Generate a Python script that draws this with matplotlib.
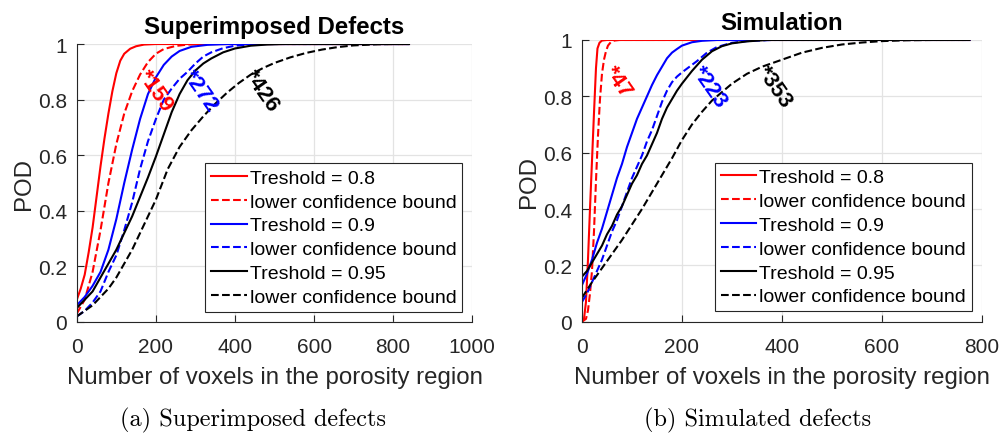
import matplotlib
matplotlib.use("Agg")
import matplotlib.pyplot as plt

### POD curves: x = number of voxels, y = POD
### (a) superimposed defects
sup_x_08 = [0, 10, 20, 30, 40, 50, 60, 70, 80, 90, 100, 110, 120, 135, 150, 170, 200, 840]
sup_pod_08 = [0.08, 0.12, 0.17, 0.25, 0.34, 0.45, 0.56, 0.66, 0.75, 0.83, 0.895, 0.94, 0.965, 0.983, 0.992, 0.998, 1.0, 1.0]
sup_x_08_lcb = [0, 20, 40, 60, 80, 100, 120, 140, 160, 180, 200, 220, 250, 280, 320, 840]
sup_pod_08_lcb = [0.03, 0.08, 0.18, 0.33, 0.50, 0.64, 0.75, 0.83, 0.89, 0.935, 0.965, 0.982, 0.993, 0.998, 1.0, 1.0]

sup_x_09 = [0, 20, 40, 60, 80, 100, 120, 140, 160, 180, 200, 220, 240, 260, 290, 330, 380, 840]
sup_pod_09 = [0.06, 0.09, 0.13, 0.18, 0.26, 0.37, 0.50, 0.62, 0.73, 0.82, 0.88, 0.925, 0.955, 0.975, 0.99, 0.997, 1.0, 1.0]
sup_x_09_lcb = [0, 20, 40, 60, 80, 100, 120, 140, 160, 180, 200, 220, 240, 260, 280, 300, 320, 340, 370, 400, 440, 480, 840]
sup_pod_09_lcb = [0.02, 0.04, 0.07, 0.11, 0.18, 0.24, 0.33, 0.43, 0.55, 0.65, 0.73, 0.80, 0.84, 0.875, 0.90, 0.93, 0.955, 0.97, 0.985, 0.994, 0.998, 1.0, 1.0]

sup_x_095 = [0, 20, 40, 60, 80, 100, 120, 140, 160, 180, 200, 220, 240, 260, 280, 300, 320, 340, 370, 400, 440, 480, 520, 840]
sup_pod_095 = [0.05, 0.08, 0.11, 0.16, 0.21, 0.26, 0.32, 0.38, 0.45, 0.52, 0.595, 0.675, 0.755, 0.82, 0.87, 0.905, 0.93, 0.948, 0.97, 0.984, 0.994, 0.998, 1.0, 1.0]
sup_x_095_lcb = [0, 20, 40, 60, 80, 100, 120, 140, 160, 180, 200, 230, 260, 290, 320, 350, 380, 410, 440, 470, 500, 540, 580, 620, 660, 700, 760, 800, 840]
sup_pod_095_lcb = [0.02, 0.04, 0.06, 0.09, 0.12, 0.16, 0.21, 0.26, 0.32, 0.38, 0.44, 0.55, 0.63, 0.69, 0.74, 0.785, 0.825, 0.86, 0.89, 0.913, 0.932, 0.952, 0.968, 0.98, 0.989, 0.995, 0.999, 1.0, 1.0]

### (b) simulated defects
sim_x_08 = [0, 4, 8, 12, 16, 20, 24, 28, 31, 35, 40, 50, 775]
sim_pod_08 = [0.0, 0.01, 0.07, 0.22, 0.40, 0.57, 0.74, 0.90, 0.97, 0.99, 0.998, 1.0, 1.0]
sim_x_08_lcb = [0, 8, 12, 16, 20, 24, 28, 32, 36, 40, 44, 48, 52, 58, 65, 75, 775]
sim_pod_08_lcb = [0.0, 0.01, 0.04, 0.10, 0.18, 0.32, 0.50, 0.66, 0.79, 0.88, 0.93, 0.96, 0.98, 0.993, 0.998, 1.0, 1.0]

sim_x_09 = [0, 10, 20, 30, 40, 50, 60, 70, 80, 90, 100, 110, 120, 130, 140, 150, 160, 170, 180, 190, 200, 220, 240, 270, 775]
sim_pod_09 = [0.13, 0.17, 0.22, 0.28, 0.33, 0.39, 0.45, 0.51, 0.56, 0.62, 0.67, 0.72, 0.76, 0.80, 0.84, 0.875, 0.905, 0.935, 0.955, 0.968, 0.98, 0.992, 0.997, 1.0, 1.0]
sim_x_09_lcb = [0, 10, 20, 30, 40, 50, 60, 70, 80, 90, 100, 110, 120, 130, 140, 150, 160, 170, 180, 190, 200, 215, 230, 250, 270, 300, 330, 380, 775]
sim_pod_09_lcb = [0.07, 0.10, 0.14, 0.18, 0.22, 0.27, 0.32, 0.36, 0.41, 0.46, 0.51, 0.55, 0.59, 0.64, 0.68, 0.73, 0.78, 0.82, 0.85, 0.87, 0.885, 0.905, 0.925, 0.955, 0.975, 0.99, 0.996, 1.0, 1.0]

sim_x_095 = [0, 10, 20, 30, 40, 50, 60, 70, 80, 90, 100, 110, 120, 130, 140, 150, 160, 170, 180, 190, 200, 220, 240, 260, 280, 300, 330, 370, 775]
sim_pod_095 = [0.16, 0.18, 0.21, 0.24, 0.27, 0.31, 0.34, 0.38, 0.41, 0.45, 0.49, 0.52, 0.56, 0.59, 0.63, 0.67, 0.72, 0.76, 0.79, 0.82, 0.845, 0.89, 0.93, 0.96, 0.978, 0.988, 0.995, 1.0, 1.0]
sim_x_095_lcb = [0, 20, 40, 60, 80, 100, 120, 140, 160, 180, 200, 220, 240, 260, 280, 300, 330, 360, 400, 440, 480, 520, 560, 600, 650, 700, 775]
sim_pod_095_lcb = [0.085, 0.14, 0.19, 0.24, 0.29, 0.345, 0.40, 0.46, 0.52, 0.58, 0.645, 0.70, 0.745, 0.785, 0.815, 0.845, 0.88, 0.905, 0.93, 0.955, 0.972, 0.984, 0.991, 0.996, 0.999, 1.0, 1.0]

### a90/95 labels (x value where the lower bound reaches 0.9)
sup_a9095 = [159, 272, 426]
sim_a9095 = [47, 223, 353]

legend_labels = ["Treshold = 0.8", "lower confidence bound",
                 "Treshold = 0.9", "lower confidence bound",
                 "Treshold = 0.95", "lower confidence bound"]
colors = ["#ff0000", "#0000ff", "#000000"]

plt.rcParams["font.family"] = ["Liberation Sans", "DejaVu Sans"]
axis_col = "#262626"

fig = plt.figure(figsize=(10.01, 4.35), dpi=100)
ax1 = fig.add_axes([0.0767, 0.2575, 0.3951, 0.639])
ax2 = fig.add_axes([0.5814, 0.2582, 0.3996, 0.6476])

panels = [
    (ax1, [(sup_x_08, sup_pod_08), (sup_x_08_lcb, sup_pod_08_lcb),
           (sup_x_09, sup_pod_09), (sup_x_09_lcb, sup_pod_09_lcb),
           (sup_x_095, sup_pod_095), (sup_x_095_lcb, sup_pod_095_lcb)],
     sup_a9095, "Superimposed Defects", 1000),
    (ax2, [(sim_x_08, sim_pod_08), (sim_x_08_lcb, sim_pod_08_lcb),
           (sim_x_09, sim_pod_09), (sim_x_09_lcb, sim_pod_09_lcb),
           (sim_x_095, sim_pod_095), (sim_x_095_lcb, sim_pod_095_lcb)],
     sim_a9095, "Simulation", 800),
]

for ax, curves, a9095, title, xmax in panels:
    for i, (xs, ys) in enumerate(curves):
        ls = "-" if i % 2 == 0 else "--"
        ax.plot(xs, ys, color=colors[i // 2], ls=ls, lw=1.5, label=legend_labels[i])
    for j, val in enumerate(a9095):
        ax.annotate("*" + str(val), xy=(val, 0.9), xytext=(2, 0), textcoords="offset points",
                    color=colors[j], fontsize=16, fontweight="bold",
                    rotation=-55, rotation_mode="anchor", ha="left", va="center")

    ax.set_xlim(0, xmax)
    ax.set_ylim(0, 1)
    ax.set_xticks(range(0, xmax + 1, 200))
    ax.set_yticks([0, 0.2, 0.4, 0.6, 0.8, 1])
    ax.set_yticklabels(["0", "0.2", "0.4", "0.6", "0.8", "1"])
    ax.grid(True, color="#e3e3e3", lw=0.9)
    ax.set_axisbelow(True)
    for s in ["top", "right"]:
        ax.spines[s].set_visible(False)
    for s in ["left", "bottom"]:
        ax.spines[s].set_color(axis_col)
        ax.spines[s].set_linewidth(0.8)
    ax.tick_params(direction="in", length=5, width=0.8, colors=axis_col, labelsize=15)
    ax.tick_params(axis="x", pad=11)
    ax.tick_params(axis="y", pad=7)
    ax.set_xlabel("Number of voxels in the porosity region", fontsize=17.3, color=axis_col, labelpad=7)
    ax.set_ylabel("POD", fontsize=17.3, color=axis_col, labelpad=2)
    ax.set_title(title, fontsize=17.3, fontweight="bold", pad=8)

    leg = ax.legend(loc="lower right", bbox_to_anchor=(0.975, 0.037), fontsize=14,
                    fancybox=False, framealpha=1, edgecolor=axis_col,
                    handlelength=1.85, handletextpad=0.15, labelspacing=0.32,
                    borderpad=0.3, borderaxespad=0)
    leg.get_frame().set_linewidth(0.8)

### subfigure captions
fig.text(0.2527, 0.0345, "(a) Superimposed defects", ha="center", va="center",
         fontsize=17.5, family="cmr10")
fig.text(0.7567, 0.0345, "(b) Simulated defects", ha="center", va="center",
         fontsize=17.5, family="cmr10")

fig.savefig("out.png", dpi=100)
